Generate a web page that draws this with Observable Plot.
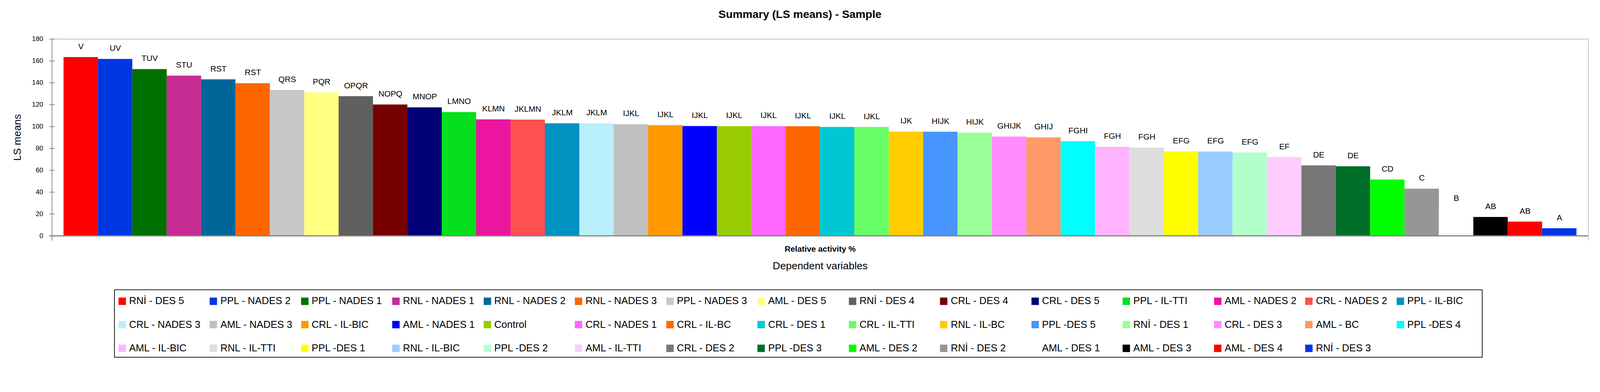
<!DOCTYPE html>
<html>
<head>
<meta charset="utf-8">
<script src="https://cdn.jsdelivr.net/npm/d3@7"></script>
<script src="https://cdn.jsdelivr.net/npm/@observablehq/plot@0.6"></script>
<style>
  html, body { margin: 0; padding: 0; background: #fff; overflow: hidden; }
  #page { position: absolute; left: 0; top: 0; width: 4320px; height: 1003px; overflow: hidden;
          transform-origin: 0 0; font-family: "Liberation Sans", Arial, sans-serif; color: #000; background: #fff; }
  #title { position: absolute; left: 0; top: 24px; width: 4320px; text-align: center;
           font-size: 30px; line-height: 30px; font-weight: bold; }
  #chart { position: absolute; left: 0; top: 60px; width: 4320px; }
  #legend { position: absolute; left: 308px; top: 781px; width: 3695px; height: 184px;
            box-sizing: border-box; border: 2.5px solid #111; background: #fff; }
  .item { position: absolute; height: 30px; display: flex; align-items: center;
          font-size: 27px; white-space: nowrap; }
  .sw { width: 20px; height: 20px; margin-right: 9px; flex: none; }
</style>
</head>
<body>
<div id="page">
  <div id="title">Summary (LS means) - Sample</div>
  <div id="chart"></div>
  <div id="legend"></div>
</div>
<script>
// ---- data ----
const names = [
  "RNİ - DES 5","PPL - NADES 2","PPL - NADES 1","RNL - NADES 1","RNL - NADES 2","RNL - NADES 3",
  "PPL - NADES 3","AML - DES 5","RNİ - DES 4","CRL - DES 4","CRL - DES 5","PPL - IL-TTI",
  "AML - NADES 2","CRL - NADES 2","PPL - IL-BIC",
  "CRL - NADES 3","AML - NADES 3","CRL - IL-BIC","AML - NADES 1","Control","CRL - NADES 1",
  "CRL - IL-BC","CRL - DES 1","CRL - IL-TTI","RNL - IL-BC","PPL -DES 5","RNİ - DES 1",
  "CRL - DES 3","AML - BC","PPL -DES 4",
  "AML - IL-BIC","RNL - IL-TTI","PPL -DES 1","RNL - IL-BIC","PPL -DES 2","AML - IL-TTI",
  "CRL - DES 2","PPL -DES 3","AML - DES 2","RNİ - DES 2","AML - DES 1","AML - DES 3",
  "AML - DES 4","RNİ - DES 3"
];
const values = [
  163.4,161.7,152.4,146.4,143.0,139.5,133.4,131.0,127.6,120.0,117.4,113.1,106.4,106.2,102.8,
  102.7,102.0,101.1,100.3,100.2,100.2,100.1,99.5,99.4,95.2,95.1,94.2,90.7,89.9,86.5,
  81.3,80.5,77.1,77.0,76.1,71.9,64.3,63.5,51.4,43.0,24.4,17.1,12.9,6.8
];
const groups = [
  "V","UV","TUV","STU","RST","RST","QRS","PQR","OPQR","NOPQ","MNOP","LMNO","KLMN","JKLMN","JKLM",
  "JKLM","IJKL","IJKL","IJKL","IJKL","IJKL","IJKL","IJKL","IJKL","IJK","HIJK","HIJK","GHIJK","GHIJ","FGHI",
  "FGH","FGH","EFG","EFG","EFG","EF","DE","DE","CD","C","B","AB","AB","A"
];
const colors = [
  "#ff0000","#0037e3","#007000","#c62a93","#006699","#ff6600","#c8c8c8","#ffff80","#606060","#770000",
  "#000077","#06df1e","#ec159f","#ff5050","#0092c0","#b9eefb","#c0c0c0","#ff9900","#0000ff","#99cc00",
  "#ff66ff","#ff6600","#00c8d2","#66ff66","#ffcc00","#4794ff","#99ff99","#ff8bff","#ff9966","#00ffff",
  "#ffb3ff","#dddddd","#ffff00","#99ccff","#b3ffcc","#ffccff","#777777","#006e28","#00ff00","#969696",
  "#ffffff","#000000","#ff0000","#0037e3"
];
const yTicks = [0, 20, 40, 60, 80, 100, 120, 140, 160, 180];
const categoryLabel = "Relative activity %";
const xTitle = "Dependent variables";
const yTitle = "LS means";

const rows = names.map((n, i) => ({name: n, value: values[i], group: groups[i], color: colors[i]}));
const font = '"Liberation Sans", Arial, sans-serif';

const W = 4320, mL = 140, mR = 32;
const frameW = W - mL - mR;

const chart = Plot.plot({
  width: W,
  height: 700,
  marginTop: 45,
  marginBottom: 124,
  marginLeft: mL,
  marginRight: mR,
  style: {fontFamily: font, fontSize: "18px", background: "#fff", color: "#000", overflow: "visible"},
  x: {type: "band", domain: names, paddingInner: 0, paddingOuter: 0.34, axis: null},
  y: {domain: [0, 180], axis: null},
  color: {type: "identity"},
  marks: [
    Plot.frame({anchor: "top", stroke: "#c0c0c0", strokeWidth: 2}),
    Plot.frame({anchor: "right", stroke: "#c0c0c0", strokeWidth: 2, insetBottom: -12}),
    Plot.barY(rows, {x: "name", y: "value", fill: "color"}),
    Plot.text(rows, {x: "name", y: "value", text: "group", lineAnchor: "bottom", dy: -22,
                     fontSize: 22, fill: "#000"}),
    // cross tick marks on the value axis
    Plot.tickY(yTicks, {y: d => d, stroke: "#868686", strokeWidth: 2,
                        insetLeft: -7, insetRight: frameW - 7}),
    Plot.axisY({ticks: yTicks, tickSize: 0, tickPadding: 24, fontSize: 18,
                fill: "#000", label: null}),
    Plot.frame({anchor: "left", stroke: "#868686", strokeWidth: 2, insetBottom: -12}),
    Plot.ruleY([0], {stroke: "#868686", strokeWidth: 3, insetLeft: -7}),
    Plot.text([yTitle], {frameAnchor: "left", dx: -94, rotate: -90, fontSize: 28,
                         textAnchor: "middle", lineAnchor: "middle", fill: "#000"}),
    Plot.text([categoryLabel], {frameAnchor: "bottom", dy: 36, fontSize: 22, fontWeight: "bold",
                                lineAnchor: "middle", fill: "#000"}),
    Plot.text([xTitle], {frameAnchor: "bottom", dy: 81, fontSize: 28,
                         lineAnchor: "middle", fill: "#000"})
  ]
});
document.getElementById("chart").appendChild(chart);

// ---- legend (15 columns x 3 rows) ----
const legend = d3.select("#legend");
names.forEach((n, i) => {
  const col = i % 15, row = Math.floor(i / 15);
  const item = legend.append("div").attr("class", "item")
    .style("left", (320 - 308 - 2.5 + col * 246.5) + "px")
    .style("top", (813 - 781 - 2.5 - 15 + row * 63.5) + "px");
  item.append("div").attr("class", "sw").style("background", colors[i]);
  item.append("span").text(n);
});

// fit the 4320-wide design into the actual viewport
function fit() {
  const s = window.innerWidth / 4320;
  document.getElementById("page").style.transform = Math.abs(s - 1) > 0.002 ? `scale(${s})` : "";
}
fit();
window.addEventListener("resize", fit);
</script>
</body>
</html>
